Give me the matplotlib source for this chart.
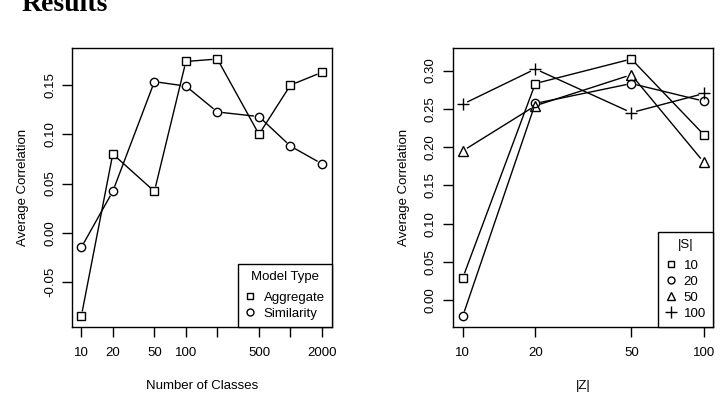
import matplotlib
matplotlib.use("Agg")
import matplotlib.pyplot as plt
from matplotlib.lines import Line2D
import numpy as np

# ---- data ----
classes = [10, 20, 50, 100, 200, 500, 1000, 2000]
class_ticks = [10, 20, 50, 100, 200, 500, 1000, 2000]
class_labels = ["10", "20", "50", "100", "", "500", "", "2000"]
aggregate = [-0.085, 0.080, 0.042, 0.174, 0.1765, 0.100, 0.150, 0.163]
similarity = [-0.015, 0.042, 0.1535, 0.149, 0.1227, 0.118, 0.088, 0.070]

z_vals = [10, 20, 50, 100]
s10 = [0.029, 0.283, 0.315, 0.216]
s20 = [-0.021, 0.257, 0.283, 0.260]
s50 = [0.195, 0.254, 0.2945, 0.180]
s100 = [0.256, 0.302, 0.245, 0.270]

FONT = "Liberation Sans"
plt.rcParams['font.family'] = [FONT, 'DejaVu Sans']

fig = plt.figure(figsize=(7.23, 4.12), dpi=100)
W, H = 723, 412

def axes_px(x0, x1, ytop, ybot):
    return fig.add_axes([x0 / W, 1 - ybot / H, (x1 - x0) / W, (ybot - ytop) / H])

ax1 = axes_px(72, 332, 48, 327)
ax2 = axes_px(452.7, 713.3, 48, 327)

def style(ax):
    for s in ax.spines.values():
        s.set_linewidth(1.0)
        s.set_color('black')
    ax.tick_params(direction='out', length=7, width=1, labelsize=9.5)
    ax.tick_params(axis='x', pad=7.5)
    ax.tick_params(axis='y', pad=4.5)
    for lab in ax.get_yticklabels():
        lab.set_rotation(90)
        lab.set_va('center')

def type_b(ax, x, y, marker, ms, gap=5.0):
    # R style type="b": points joined by lines with gaps around points
    pts = ax.transData.transform(np.column_stack([x, y]))
    inv = ax.transData.inverted()
    for i in range(len(pts) - 1):
        p, q = pts[i], pts[i + 1]
        d = q - p
        L = np.hypot(*d)
        if L <= 2 * gap:
            continue
        u = d / L
        a = inv.transform(p + u * gap)
        b = inv.transform(q - u * gap)
        ax.plot([a[0], b[0]], [a[1], b[1]], color='black', lw=1.0,
                solid_capstyle='butt')
    ax.plot(x, y, linestyle='none', marker=marker, ms=ms, mfc='none',
            mec='black', mew=1.0)

def make_legend(ax, handles, labels, title):
    leg = ax.legend(handles, labels, title=title,
                    loc='lower right', borderaxespad=0, fancybox=False,
                    edgecolor='black', framealpha=1, fontsize=9.5,
                    title_fontsize=9.5, handlelength=0.8, handletextpad=0.6,
                    labelspacing=0.28, borderpad=0.55)
    leg.get_frame().set_linewidth(1.0)
    leg._legend_box.sep = 6.0
    return leg

# ---- left panel ----
ax1.set_xscale('log')
ax1.set_xlim(8.15, 2495)
ax1.set_ylim(-0.0958, 0.1877)
ax1.set_xticks(class_ticks)
ax1.set_xticklabels(class_labels)
ax1.minorticks_off()
ax1.set_yticks([-0.05, 0.0, 0.05, 0.10, 0.15])
ax1.set_yticklabels(["-0.05", "0.00", "0.05", "0.10", "0.15"])
style(ax1)
type_b(ax1, classes, aggregate, 's', 6)
type_b(ax1, classes, similarity, 'o', 6)
ax1.set_xlabel("Number of Classes", fontsize=9.5, labelpad=15)
ax1.set_ylabel("Average Correlation", fontsize=9.5, labelpad=10.5)
h1 = [Line2D([], [], ls='none', marker='s', ms=5, mfc='none', mec='black'),
      Line2D([], [], ls='none', marker='o', ms=5, mfc='none', mec='black')]
make_legend(ax1, h1, ["Aggregate", "Similarity"], "Model Type")

# ---- right panel ----
ax2.set_xscale('log')
ax2.set_xlim(9.09, 109.3)
ax2.set_ylim(-0.0349, 0.3294)
ax2.set_xticks(z_vals)
ax2.set_xticklabels([str(v) for v in z_vals])
ax2.minorticks_off()
ax2.set_yticks([0.0, 0.05, 0.10, 0.15, 0.20, 0.25, 0.30])
ax2.set_yticklabels(["0.00", "0.05", "0.10", "0.15", "0.20", "0.25", "0.30"])
style(ax2)
type_b(ax2, z_vals, s10, 's', 6)
type_b(ax2, z_vals, s20, 'o', 6)
type_b(ax2, z_vals, s50, '^', 7)
type_b(ax2, z_vals, s100, '+', 9)
ax2.set_xlabel("|Z|", fontsize=9.5, labelpad=15)
ax2.set_ylabel("Average Correlation", fontsize=9.5, labelpad=10.5)
h2 = [Line2D([], [], ls='none', marker='s', ms=5, mfc='none', mec='black'),
      Line2D([], [], ls='none', marker='o', ms=5, mfc='none', mec='black'),
      Line2D([], [], ls='none', marker='^', ms=6, mfc='none', mec='black'),
      Line2D([], [], ls='none', marker='+', ms=8, mfc='none', mec='black')]
make_legend(ax2, h2, ["10", "20", "50", "100"], "|S|")

# clipped title at top (as in the reference)
fig.text(22 / W, 1 - 11 / H, "Results", fontsize=20, fontweight='bold',
         family='Liberation Serif', va='baseline', ha='left')

fig.savefig("out.png", dpi=100)
